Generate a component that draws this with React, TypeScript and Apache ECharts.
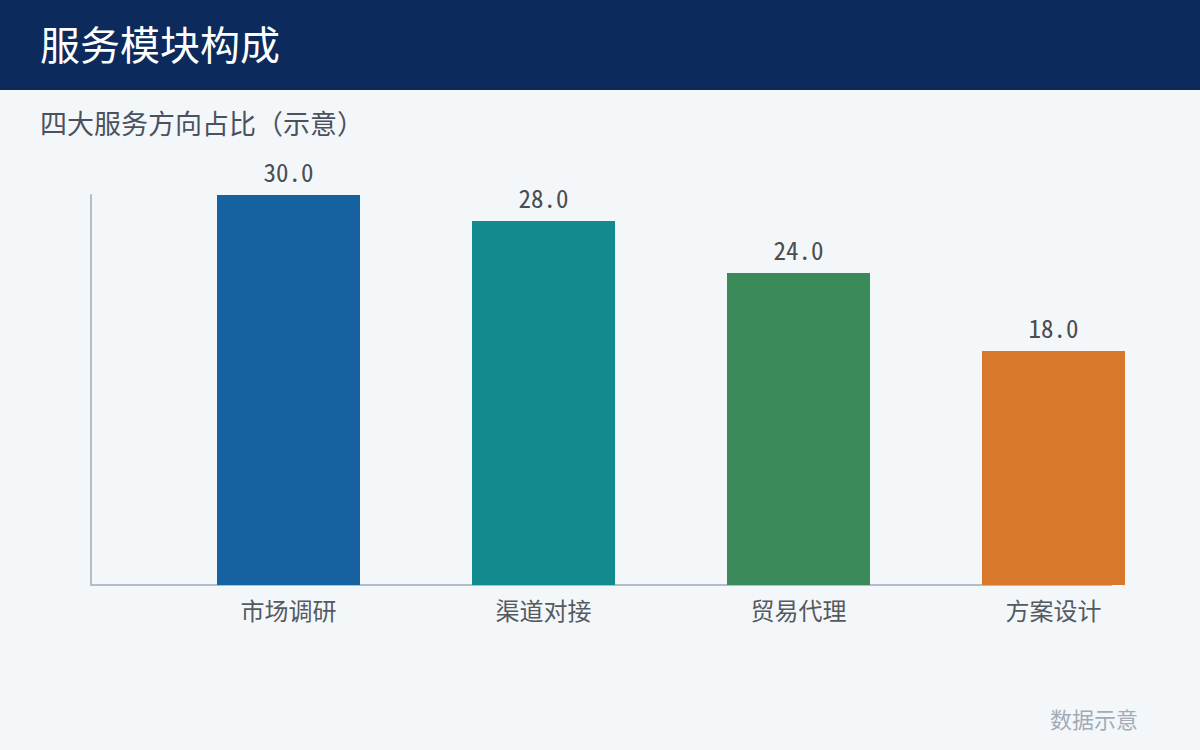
import React, { useEffect, useRef } from "react";
import * as echarts from "echarts";

const categories = ["市场调研", "渠道对接", "贸易代理", "方案设计"];
const values = [30, 28, 24, 18];
const barColors = ["#1662a1", "#118b8e", "#3b8b5a", "#d7782a"];
const titleText = "服务模块构成";
const subtitleText = "四大服务方向占比（示意）";
const footerText = "数据示意";

const CJK = "'Noto Sans CJK SC', 'Noto Sans', sans-serif";
const MONO = "'Noto Sans Mono CJK SC', monospace";

export default function App() {
  const ref = useRef<HTMLDivElement>(null);
  useEffect(() => {
    document.body.style.margin = "0";
    const chart = echarts.init(ref.current!, null, { renderer: "svg" });
    chart.setOption({
      animation: false,
      backgroundColor: "#f4f7fa",
      textStyle: { fontFamily: CJK },
      graphic: [
        { type: "rect", left: 0, top: 0, shape: { width: 1200, height: 90 }, style: { fill: "#0d2a5c" }, z: 0 },
        { type: "text", left: 40, top: 23, style: { text: titleText, fill: "#ffffff", font: `40px ${CJK}` }, z: 1 },
        { type: "text", left: 40, top: 109, style: { text: subtitleText, fill: "#4a5260", font: `27px ${CJK}` }, z: 1 },
        { type: "text", right: 62, top: 707, style: { text: footerText, fill: "#a3abb7", font: `22px ${CJK}` }, z: 1 },
      ],
      grid: [
        { left: 161, right: 19, top: 195, bottom: 165 },
        { left: 91, right: 89, top: 195, bottom: 165 },
      ],
      xAxis: [
        {
          type: "category",
          gridIndex: 0,
          data: categories,
          axisLine: { show: false },
          axisTick: { show: false },
          axisLabel: { fontSize: 24, color: "#555a60", margin: 12, fontFamily: CJK },
        },
        {
          type: "category",
          gridIndex: 1,
          data: categories,
          axisLine: { show: true, lineStyle: { color: "#b3bdc9", width: 2 } },
          axisTick: { show: false },
          axisLabel: { show: false },
          z: 0,
        },
      ],
      yAxis: [
        { type: "value", gridIndex: 0, min: 0, max: 30, show: false, splitLine: { show: false } },
        {
          type: "value",
          gridIndex: 1,
          min: 0,
          max: 30,
          axisLine: { show: true, lineStyle: { color: "#b3bdc9", width: 2 } },
          axisTick: { show: false },
          axisLabel: { show: false },
          splitLine: { show: false },
          z: 0,
        },
      ],
      series: [
        {
          type: "bar",
          xAxisIndex: 0,
          yAxisIndex: 0,
          barWidth: 143,
          z: 3,
          data: values.map((v, i) => ({ value: v, itemStyle: { color: barColors[i] } })),
          label: {
            show: true,
            position: "top",
            distance: 12,
            fontSize: 25,
            color: "#4a4d52",
            fontFamily: MONO,
            formatter: (p: any) => Number(p.value).toFixed(1),
          },
        },
      ],
    });
    return () => chart.dispose();
  }, []);
  return <div ref={ref} style={{ width: 1200, height: 750, position: "fixed", left: 0, top: 0 }} />;
}
